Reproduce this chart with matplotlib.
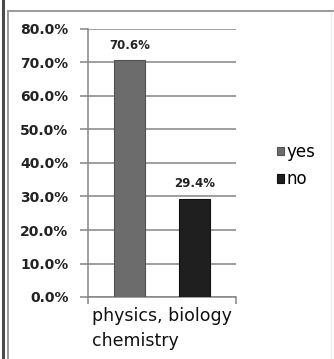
import matplotlib
matplotlib.use("Agg")
import matplotlib.pyplot as plt
from matplotlib.lines import Line2D
from matplotlib.ticker import PercentFormatter

# data
category = "physics, biology\nchemistry"
series_names = ["yes", "no"]
series_values = [70.6, 29.4]
series_colors = ["#6c6c6c", "#1f1f1f"]
edge_colors = ["#525252", "#101010"]
y_ticks = [0, 10, 20, 30, 40, 50, 60, 70, 80]

W, H = 334, 359
fig = plt.figure(figsize=(W / 100, H / 100), dpi=100)
fig.patch.set_facecolor("white")

ax = fig.add_axes([88 / W, (H - 297) / H, 148 / W, (297 - 29) / H])

offsets = [-0.22, 0.22]
bar_w = 0.215
handles = []
for off, val, name, fc, ec in zip(offsets, series_values, series_names,
                                  series_colors, edge_colors):
    b = ax.bar(off, val, width=bar_w, color=fc, edgecolor=ec,
               linewidth=0.8, label=name, zorder=3)
    handles.append(b)
    ax.annotate(f"{val:.1f}%", (off, val), xytext=(0, 6), textcoords="offset points",
                ha="center", va="bottom", fontsize=8.5, fontweight="bold",
                color="#222222")

ax.set_xlim(-0.5, 0.5)
ax.set_ylim(0, 80)
ax.set_yticks(y_ticks)
ax.yaxis.set_major_formatter(PercentFormatter(decimals=1))
ax.yaxis.grid(True, color="#858585", linewidth=1.1, zorder=0)
ax.set_axisbelow(True)

for s in ["top", "right"]:
    ax.spines[s].set_visible(False)
for s in ["left", "bottom"]:
    ax.spines[s].set_color("#858585")
    ax.spines[s].set_linewidth(1.1)

ax.tick_params(axis="y", length=6, width=1.1, color="#858585", pad=8,
               labelsize=10, labelcolor="#222222")
for t in ax.get_yticklabels():
    t.set_fontweight("bold")

ax.set_xticks([0])
ax.set_xticklabels([category])
ax.set_xticks([-0.5, 0.5], minor=True)
ax.tick_params(axis="x", which="major", length=0, pad=7, labelsize=12.5,
               labelcolor="#111111")
ax.tick_params(axis="x", which="minor", length=5, width=1.1, color="#858585")
for t in ax.get_xticklabels():
    t.set_multialignment("left")
    t.set_linespacing(1.5)

fig.legend(handles=handles, labels=series_names, loc="upper left",
           bbox_to_anchor=(277 / W, 1 - 143 / H), frameon=False,
           fontsize=12, handlelength=0.42, handleheight=0.42,
           handletextpad=0.15, labelspacing=0.55, borderpad=0,
           borderaxespad=0)

# outer frame lines
fig.add_artist(Line2D([2.5 / W, 2.5 / W], [0, 1], color="#4a4a4a", linewidth=2.2))
fig.add_artist(Line2D([7.5 / W, 7.5 / W], [0, 1 - 10.5 / H], color="#9a9a9a", linewidth=1.4))
fig.add_artist(Line2D([7.5 / W, 1], [1 - 10.5 / H, 1 - 10.5 / H], color="#9a9a9a", linewidth=1.4))
fig.add_artist(Line2D([331 / W, 331 / W], [0, 1 - 12 / H], color="#ececec", linewidth=1.0))

fig.savefig("out.png", dpi=100)
